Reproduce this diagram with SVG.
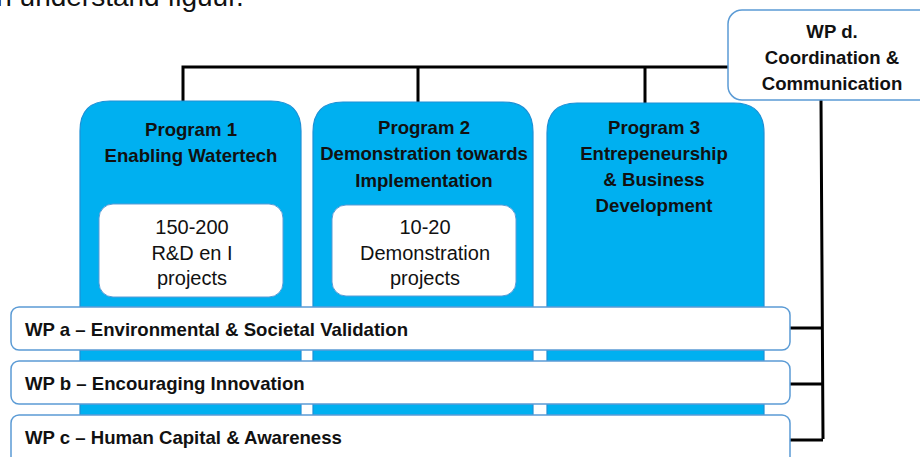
<svg xmlns="http://www.w3.org/2000/svg" width="920" height="457" viewBox="0 0 920 457">
<style>
.prog{fill:#00B0F0;stroke:#1E90D6;stroke-width:1.2}
.inner{fill:#FFFFFF;stroke:#5B9BD5;stroke-width:1}
.wp{fill:#FFFFFF;stroke:#5B9BD5;stroke-width:1.5}
.t{font-family:"Liberation Sans",Arial,sans-serif;fill:#111}
.b{font-weight:bold;font-size:18.6px}
.r{font-size:20px}
.c{text-anchor:middle}
.ln{fill:none;stroke:#000;stroke-width:3}
</style>
<text class="t" x="-10" y="6" font-size="28">in understand figuur.</text>
<g id="connectors">
<path class="ln" d="M183,101 V67 H728 M418,67 V102 M645,67 V103"/>
<path class="ln" d="M821,100 L823,439 M790,328 H822 M790,384 H822 M790,440 H823"/>
</g>
<g id="program1">
<path class="prog" d="M80,460 V131 Q80,101 110,101 H271 Q301,101 301,131 V460 Z"/>
<text class="t b c" x="191" y="136">Program 1</text>
<text class="t b c" x="191" y="162">Enabling Watertech</text>
<rect class="inner" x="99" y="204" width="184" height="93" rx="14"/>
<text class="t r c" x="192" y="234">150-200</text>
<text class="t r c" x="192" y="260">R&amp;D en I</text>
<text class="t r c" x="192" y="285">projects</text>
</g>
<g id="program2">
<path class="prog" d="M313,460 V132 Q313,102 343,102 H503 Q533,102 533,132 V460 Z"/>
<text class="t b c" x="424" y="134">Program 2</text>
<text class="t b c" x="424" y="160">Demonstration towards</text>
<text class="t b c" x="424" y="187">Implementation</text>
<rect class="inner" x="332" y="205" width="184" height="91" rx="14"/>
<text class="t r c" x="425" y="234">10-20</text>
<text class="t r c" x="425" y="260">Demonstration</text>
<text class="t r c" x="425" y="285">projects</text>
</g>
<g id="program3">
<path class="prog" d="M547,460 V133 Q547,103 577,103 H734 Q764,103 764,133 V460 Z"/>
<text class="t b c" x="654" y="134">Program 3</text>
<text class="t b c" x="654" y="160">Entrepeneurship</text>
<text class="t b c" x="654" y="186">&amp; Business</text>
<text class="t b c" x="654" y="212">Development</text>
</g>
<g id="wpd">
<rect class="wp" x="728" y="10" width="205" height="90" rx="14"/>
<text class="t b c" x="832" y="38">WP d.</text>
<text class="t b c" x="832" y="64">Coordination &amp;</text>
<text class="t b c" x="832" y="90">Communication</text>
</g>
<g id="wpa">
<rect class="wp" x="11" y="307" width="779" height="43" rx="8"/>
<text class="t b" x="25" y="336">WP a – Environmental &amp; Societal Validation</text>
</g>
<g id="wpb">
<rect class="wp" x="11" y="361" width="779" height="43" rx="8"/>
<text class="t b" x="25" y="390">WP b – Encouraging Innovation</text>
</g>
<g id="wpc">
<rect class="wp" x="11" y="415" width="779" height="50" rx="8"/>
<text class="t b" x="25" y="444">WP c – Human Capital &amp; Awareness</text>
</g>
</svg>
